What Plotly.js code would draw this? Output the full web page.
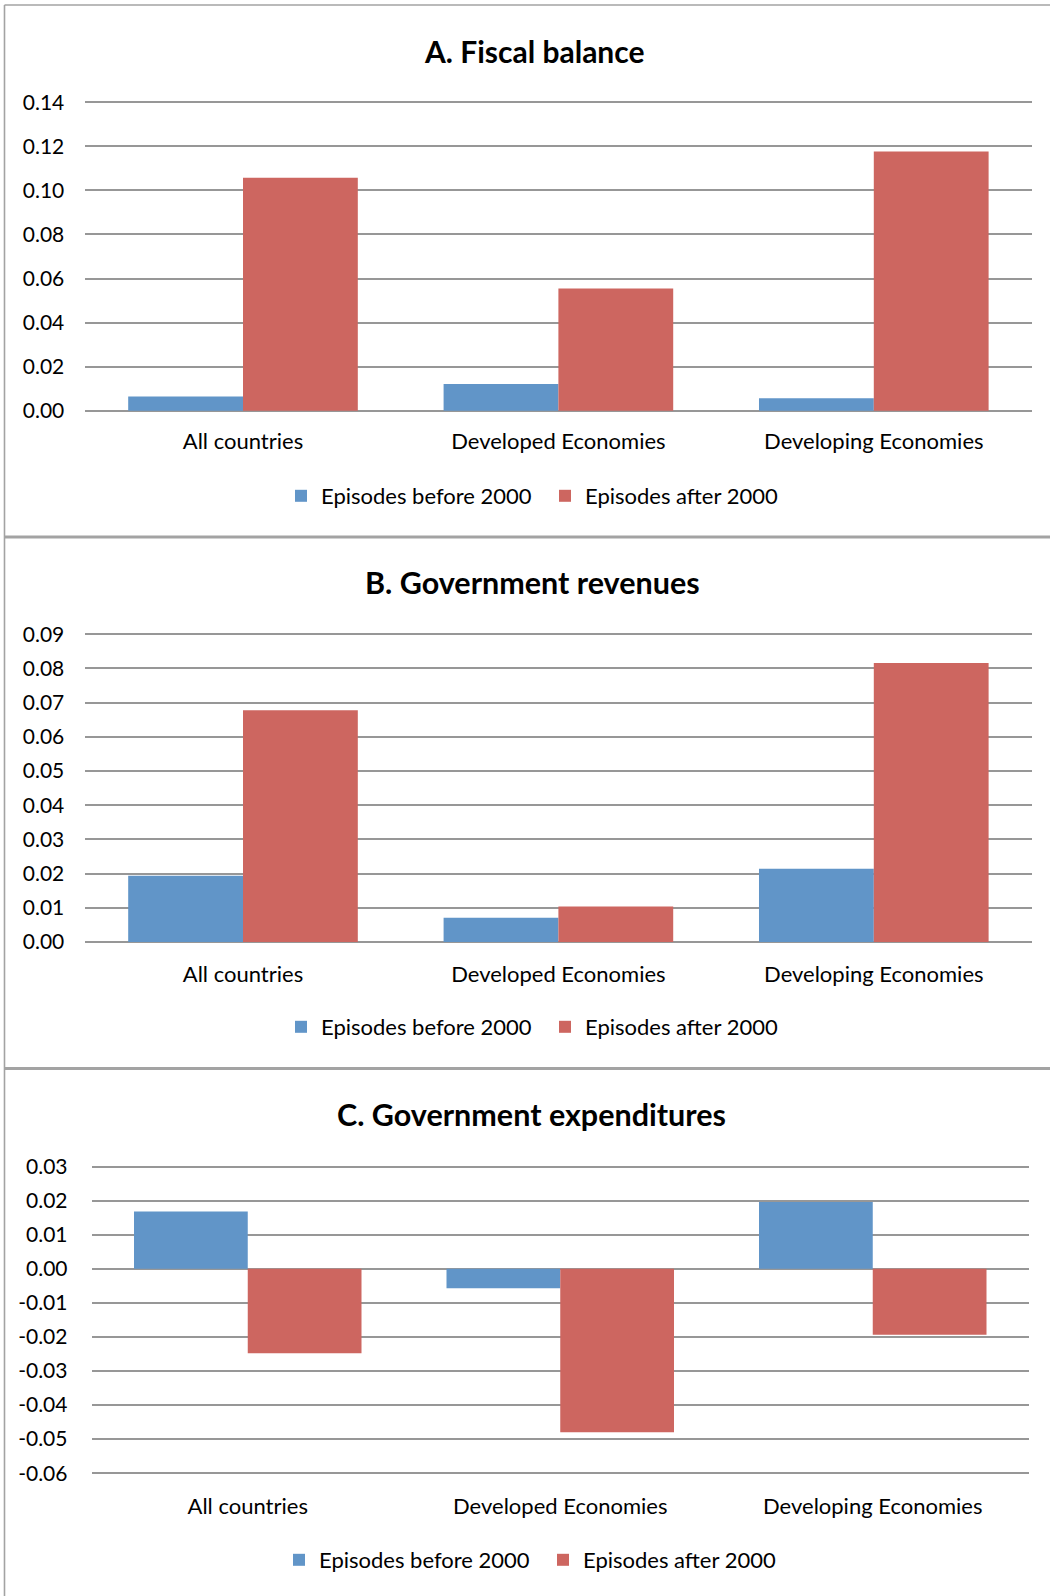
<!DOCTYPE html>
<html>
<head>
<meta charset="utf-8">
<script src="https://cdn.plot.ly/plotly-3.0.1.min.js"></script>
<style>
  html, body { margin: 0; padding: 0; background: #ffffff; }
  #chart { width: 1050px; height: 1596px; }
</style>
</head>
<body>
<div id="chart"></div>
<script>
// Categories and series shared by the three panels
const categories = ['All countries', 'Developed Economies', 'Developing Economies'];
const seriesNames = ['Episodes before 2000', 'Episodes after 2000'];

// A. Fiscal balance
const fiscalBefore = [0.0065, 0.0121, 0.0057];
const fiscalAfter = [0.1057, 0.0555, 0.1177];
const fiscalTicks = [0, 0.02, 0.04, 0.06, 0.08, 0.10, 0.12, 0.14];
const fiscalTickLabels = ['0.00', '0.02', '0.04', '0.06', '0.08', '0.10', '0.12', '0.14'];

// B. Government revenues
const revenueBefore = [0.0194, 0.0071, 0.0214];
const revenueAfter = [0.0678, 0.0104, 0.0816];
const revenueTicks = [0, 0.01, 0.02, 0.03, 0.04, 0.05, 0.06, 0.07, 0.08, 0.09];
const revenueTickLabels = ['0.00', '0.01', '0.02', '0.03', '0.04', '0.05', '0.06', '0.07', '0.08', '0.09'];

// C. Government expenditures
const expenditureBefore = [0.0168, -0.0057, 0.0196];
const expenditureAfter = [-0.0248, -0.0480, -0.0194];
const expenditureTicks = [-0.06, -0.05, -0.04, -0.03, -0.02, -0.01, 0, 0.01, 0.02, 0.03];
const expenditureTickLabels = ['-0.06', '-0.05', '-0.04', '-0.03', '-0.02', '-0.01', '0.00', '0.01', '0.02', '0.03'];

const panelTitles = ['A. Fiscal balance', 'B. Government revenues', 'C. Government expenditures'];

const W = 1050, H = 1596;
const px = x => x / W;          // horizontal pixel -> paper
const py = y => 1 - y / H;      // vertical pixel (from top) -> paper

const FONT = 'Lato, "Open Sans", sans-serif';
const BLUE = '#6195c8';
const RED = '#cd6660';
const GRID = '#979797';

// Panel geometry in pixels (plot box spans the first to the last tick)
const panels = [
  { before: fiscalBefore, after: fiscalAfter, ticks: fiscalTicks, labels: fiscalTickLabels,
    plot: { left: 85.3, right: 1031.5, top: 102.3, bottom: 410.7 },
    titleX: 534.6, titleY: 51, titleSize: 30, catStandoff: 12, valStandoff: 20,
    legendY: 496, legendX: [281, 545] },
  { before: revenueBefore, after: revenueAfter, ticks: revenueTicks, labels: revenueTickLabels,
    plot: { left: 85.3, right: 1031.5, top: 634.3, bottom: 942 },
    titleX: 532.6, titleY: 582, titleSize: 30.5, catStandoff: 14, valStandoff: 20,
    legendY: 1027, legendX: [281, 545] },
  { before: expenditureBefore, after: expenditureAfter, ticks: expenditureTicks, labels: expenditureTickLabels,
    plot: { left: 91.5, right: 1029, top: 1166.5, bottom: 1473.2 },
    titleX: 531, titleY: 1114, titleSize: 30.5, catStandoff: 15, valStandoff: 23,
    legendY: 1560, legendX: [279, 543] }
];

const traces = [];
const layout = {
  width: W, height: H,
  margin: { l: 0, r: 0, t: 0, b: 0, pad: 0 },
  paper_bgcolor: '#ffffff',
  plot_bgcolor: '#ffffff',
  font: { family: FONT, size: 21, color: '#000000' },
  barmode: 'group',
  bargap: 0.272,
  bargroupgap: 0,
  showlegend: true,
  annotations: [],
  shapes: []
};

panels.forEach((p, i) => {
  const sfx = i === 0 ? '' : String(i + 1);
  const xa = 'x' + sfx, ya = 'y' + sfx;
  const legA = i === 0 ? 'legend' : 'legend' + (2 * i + 1);
  const legB = 'legend' + (2 * i + 2);

  traces.push({
    type: 'bar', name: seriesNames[0], x: categories, y: p.before,
    xaxis: xa, yaxis: ya, legend: legA,
    marker: { color: BLUE, line: { width: 0 } }, hoverinfo: 'skip'
  });
  traces.push({
    type: 'bar', name: seriesNames[1], x: categories, y: p.after,
    xaxis: xa, yaxis: ya, legend: legB,
    marker: { color: RED, line: { width: 0 } }, hoverinfo: 'skip'
  });

  // Pad the value range by a few pixels so the end gridlines are drawn too
  const lo = p.ticks[0], hi = p.ticks[p.ticks.length - 1];
  const pxPerUnit = (p.plot.bottom - p.plot.top) / (hi - lo);
  const padPx = 3;
  const pad = padPx / pxPerUnit;

  layout['xaxis' + sfx] = {
    domain: [px(p.plot.left), px(p.plot.right)],
    anchor: ya,
    showgrid: false, zeroline: false, showline: false,
    ticks: '', ticklabelstandoff: p.catStandoff,
    tickfont: { family: FONT, size: 22, color: '#000000' },
    fixedrange: true
  };
  layout['yaxis' + sfx] = {
    domain: [py(p.plot.bottom + padPx), py(p.plot.top - padPx)],
    anchor: xa,
    range: [lo - pad, hi + pad],
    tickmode: 'array', tickvals: p.ticks, ticktext: p.labels,
    showgrid: true, gridcolor: GRID, gridwidth: 2,
    zeroline: true, zerolinecolor: GRID, zerolinewidth: 2,
    showline: false, ticks: '', ticklabelstandoff: p.valStandoff,
    tickfont: { family: FONT, size: 21, color: '#000000' },
    fixedrange: true
  };

  const legendStyle = {
    orientation: 'h', xanchor: 'left', yanchor: 'middle',
    y: py(p.legendY), bgcolor: 'rgba(0,0,0,0)', borderwidth: 0,
    font: { family: FONT, size: 22, color: '#000000' },
    itemwidth: 30
  };
  layout[legA] = Object.assign({}, legendStyle, { x: px(p.legendX[0]) });
  layout[legB] = Object.assign({}, legendStyle, { x: px(p.legendX[1]) });

  layout.annotations.push({
    xref: 'paper', yref: 'paper',
    x: px(p.titleX), y: py(p.titleY),
    xanchor: 'center', yanchor: 'middle', showarrow: false,
    text: '<b>' + panelTitles[i] + '</b>',
    font: { family: FONT, size: p.titleSize, color: '#000000' }
  });
});

// Chart-area frames around the panels
const frame = (x0, y0, x1, y1, w) => ({
  type: 'line', xref: 'paper', yref: 'paper',
  x0: px(x0), y0: py(y0), x1: px(x1), y1: py(y1),
  line: { color: '#a3a3a3', width: w }
});
layout.shapes.push(frame(4.5, 5, 4.5, H, 1.6));
layout.shapes.push(frame(4.5, 5, W, 5, 1.6));
layout.shapes.push(frame(4.5, 537, W, 537, 3));
layout.shapes.push(frame(4.5, 1068.5, W, 1068.5, 3));

Plotly.newPlot('chart', traces, layout, { staticPlot: true, displayModeBar: false });
</script>
</body>
</html>
